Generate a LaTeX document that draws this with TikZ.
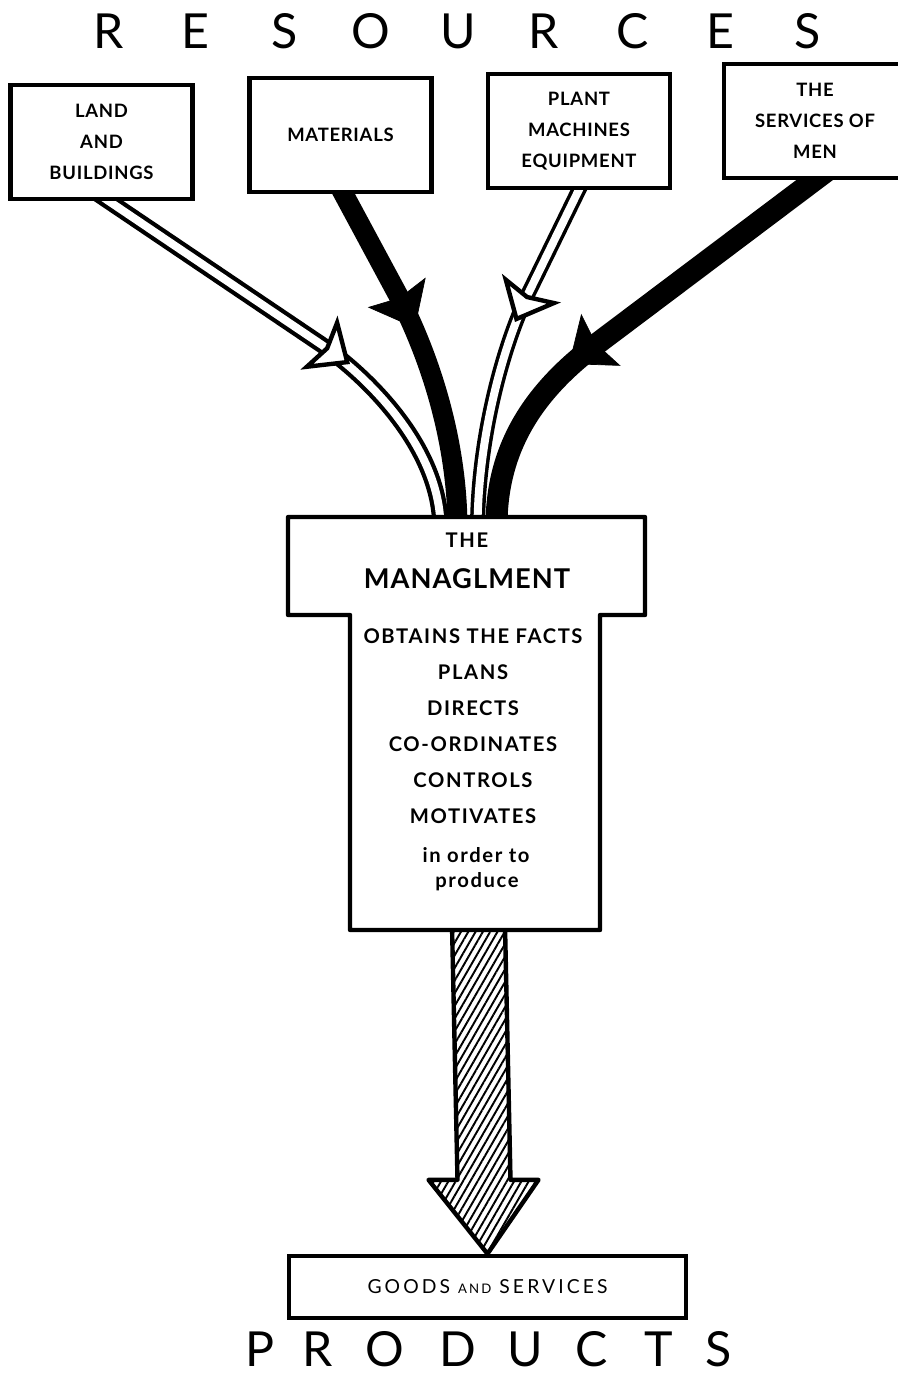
\documentclass[tikz,border=0pt]{standalone}
\usepackage{fontspec}
\setmainfont{Lato}
\usetikzlibrary{arrows.meta, calc, backgrounds, patterns.meta}
\tikzset{
  resbox/.style    = {draw, line width=2.5pt, fill=white, align=center,
                      font=\fontsize{10.5}{17.6}\selectfont\bfseries\addfontfeature{LetterSpace=4},
                      minimum width=3.64cm, minimum height=2.28cm, inner sep=2pt},
  bigletter/.style = {font=\fontsize{27.5}{30}\selectfont, anchor=base, inner sep=0pt},
  mgmtpart/.style  = {inner sep=0pt, outer sep=0pt},
  acttext/.style   = {font=\fontsize{11.5}{13}\selectfont\bfseries\addfontfeature{LetterSpace=8},
                      anchor=base, inner sep=0pt},
  goodsbox/.style  = {draw, line width=2.5pt, fill=white,
                      font=\fontsize{11}{12}\selectfont\addfontfeature{LetterSpace=16},
                      minimum width=7.94cm, minimum height=1.24cm},
  outline/.style   = {line width=2.5pt, line join=round, fill=white},
  whiteflow/.style = {draw=black, line width=0.33cm, postaction={draw=white, line width=0.16cm}},
  blackflow/.style = {draw=black, line width=0.4cm},
  whitehead/.style = {draw=white, line width=0.4pt,
                      -{Stealth[length=0.75cm, width=1.3cm, inset=0.15cm, color=black, fill=white, line width=2.5pt]}},
  blackhead/.style = {draw=black, line width=0.4pt,
                      -{Stealth[length=0.8cm, width=1.3cm, inset=0.12cm, fill=black]}},
  outflow/.style   = {line width=2.5pt, line join=round,
                      pattern={Lines[angle=60, distance=3.6pt, line width=1.1pt]}}
}

\begin{document}
\begin{tikzpicture}[x=0.02cm, y=-0.02cm]
\useasboundingbox (0,0) rectangle (898,1376);
\clip (0,0) rectangle (898,1376);

% resources
\foreach \ch/\xx [count=\i] in {R/109, E/195, S/285, O/371, U/458, R/544, C/633, E/720, S/808}
  \node[bigletter] at (\xx,48) (res\i) {\ch};

\node[resbox] at (101.5,142) (land)  {LAND\\AND\\BUILDINGS};
\node[resbox] at (340.5,135) (mat)   {MATERIALS};
\node[resbox] at (579,131)   (plant) {PLANT\\MACHINES\\EQUIPMENT};
\node[resbox] at (815,121)   (men)   {THE\\SERVICES OF\\MEN};

% management
\node[mgmtpart, minimum width=7.14cm, minimum height=1.96cm] at (466.5,566) (head) {};
\node[mgmtpart, minimum width=5cm, minimum height=6.3cm]     at (475,772.5) (body) {};
\node[acttext] at (467,547) (the) {THE};
\node[acttext, font=\fontsize{15.5}{18}\selectfont\bfseries\addfontfeature{LetterSpace=4}]
      at (467,588) (mgname) {MANAGLMENT};
\foreach \act [count=\i] in {OBTAINS THE FACTS, PLANS, DIRECTS, CO-ORDINATES, CONTROLS, MOTIVATES}
  \node[acttext] at (473,607.5+36*\i) (act\i) {\act};
\node[acttext] at (476,862) (inorder) {in order to};
\node[acttext] at (477,887) (produce) {produce};

% products
\node[goodsbox] at (487.5,1287) (goods) {GOODS {\fontsize{7.5}{9}\selectfont AND} SERVICES};
\foreach \ch/\xx [count=\i] in {P/260, R/318, O/385, D/458, U/525, C/592, T/659, S/719}
  \node[bigletter] at (\xx,1366) (prod\i) {\ch};

\begin{scope}[on background layer]
  \draw[whiteflow] ($(land.south)+(-6,-9)$) -- (322,345)
        .. controls (372,380) and (440,450) .. ($(head.north)+(-26,10)$);
  \draw[blackflow] ($(mat.south)+(-7,-19)$) -- (398,295)
        .. controls (430,357) and (457,440) .. ($(head.north)+(-9,10)$);
  \draw[whiteflow, line width=0.3cm] ($(plant.south)+(8,-17)$) -- (528,294)
        .. controls (502,348) and (478,440) .. ($(head.north)+(11,10)$);
  \draw[blackflow, line width=0.44cm] ($(men.south)+(14,-11)$) -- (598,343)
        .. controls (542,385) and (496,440) .. ($(head.north)+(30,10)$);
  \draw[whitehead] (318,342) -- (350,364);
  \draw[blackhead] (396,291) -- (415,328);
  \draw[whitehead] (531,289) -- (515,322);
  \draw[blackhead] (602,339) -- (569,364);

  \draw[outflow] ($(body.south)+(-23,-5)$) -- ($(goods.north)+(-30,-74)$)
        -- ($(goods.north)+(-59,-74)$) -- (goods.north) -- ($(goods.north)+(51,-74)$)
        -- ($(goods.north)+(23,-74)$) -- ($(body.south)+(30,-5)$) -- cycle;

  \draw[outline] (head.north west) -- (head.north east) -- (head.south east)
        -- (body.north east) -- (body.south east) -- (body.south west)
        -- (body.north west) -- (head.south west) -- cycle;
\end{scope}
\end{tikzpicture}
\end{document}
